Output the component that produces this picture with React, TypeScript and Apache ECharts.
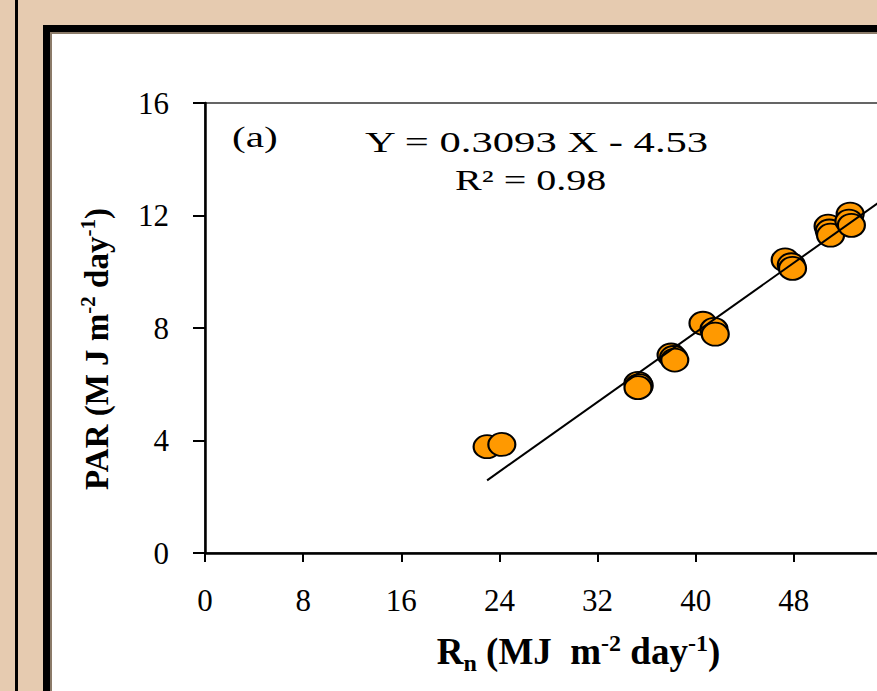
import React, { useEffect, useRef } from "react";
import * as echarts from "echarts";

// Data
const rnValues = [23.0, 24.2, 35.3, 35.4, 35.3, 38.0, 38.2, 38.3, 40.6, 41.5, 41.6, 47.3, 47.8, 47.9, 50.8, 50.9, 51.0, 52.6, 52.5, 52.7];
const parValues = [3.78, 3.86, 6.03, 5.95, 5.88, 7.04, 6.95, 6.86, 8.17, 7.95, 7.78, 10.42, 10.25, 10.12, 11.62, 11.45, 11.3, 12.05, 11.8, 11.65];

// Regression shown on the chart
const slope = 0.3093;
const intercept = -4.53;
const trendStart = 23.0;
const trendEnd = 58;

const xMin = 0;
const xMax = 64;
const xInterval = 8;
const yMin = 0;
const yMax = 16;
const yInterval = 4;

const panelLabel = "(a)";
const equationText = "Y = 0.3093 X - 4.53";
const r2Text = "R² = 0.98";

const SERIF = "'Liberation Serif', 'Times New Roman', serif";

export default function App() {
  const ref = useRef<HTMLDivElement>(null);

  useEffect(() => {
    if (!ref.current) return;
    const chart = echarts.init(ref.current, null, { renderer: "svg" });
    const points = rnValues.map((x, i) => [x, parValues[i]]);
    const trend = [
      [trendStart, slope * trendStart + intercept],
      [trendEnd, slope * trendEnd + intercept],
    ];
    const annStyle = (text: string) => ({
      text,
      fontSize: 29,
      fontFamily: SERIF,
      fill: "#000",
      align: "left",
      verticalAlign: "middle",
      textAlign: "left",
      textVerticalAlign: "middle",
    });

    chart.setOption({
      animation: false,
      backgroundColor: "#e6cbb0",
      graphic: [
        { type: "rect", z: -10, shape: { x: 15, y: 0, width: 3, height: 691 }, style: { fill: "#000" } },
        { type: "rect", z: -10, shape: { x: 43, y: 25, width: 1000, height: 700 }, style: { fill: "#000" } },
        { type: "rect", z: -10, shape: { x: 50, y: 32, width: 1000, height: 700 }, style: { fill: "#8b7b69" } },
        { type: "rect", z: -10, shape: { x: 52, y: 34, width: 1000, height: 700 }, style: { fill: "#ffffff" } },
        { type: "text", z: 10, x: 232, y: 137, scaleX: 1.42, style: annStyle(panelLabel) },
        { type: "text", z: 10, x: 365, y: 142, scaleX: 1.47, style: annStyle(equationText) },
        { type: "text", z: 10, x: 455, y: 180, scaleX: 1.38, style: annStyle(r2Text) },
      ],
      grid: {
        left: 205,
        top: 103,
        width: 785,
        height: 450,
        show: true,
        borderColor: "#333",
        borderWidth: 1.5,
        backgroundColor: "transparent",
      },
      xAxis: {
        type: "value",
        min: xMin,
        max: xMax,
        interval: xInterval,
        splitLine: { show: false },
        axisLine: { show: true, onZero: false, lineStyle: { color: "#000", width: 2.5 } },
        axisTick: { show: true, inside: false, length: 9, lineStyle: { color: "#000", width: 2 } },
        axisLabel: { margin: 32, fontSize: 31, fontFamily: SERIF, color: "#000" },
        name: "{b|R}{sub|n}{b| (MJ  m}{sup|-2}{b| day}{sup|-1}{b|)}",
        nameLocation: "middle",
        nameGap: 78,
        nameTextStyle: {
          padding: [0, 38, 0, 0],
          rich: {
            b: { fontSize: 37, fontWeight: "bold", fontFamily: SERIF, color: "#000", verticalAlign: "bottom", padding: [0, 0, 5, 0] },
            sub: { fontSize: 24, fontWeight: "bold", fontFamily: SERIF, color: "#000", verticalAlign: "bottom", padding: [0, 0, 0, 0] },
            sup: { fontSize: 24, fontWeight: "bold", fontFamily: SERIF, color: "#000", verticalAlign: "bottom", padding: [0, 0, 20, 0] },
          },
        },
      },
      yAxis: {
        type: "value",
        min: yMin,
        max: yMax,
        interval: yInterval,
        splitLine: { show: false },
        axisLine: { show: true, onZero: false, lineStyle: { color: "#000", width: 2.5 } },
        axisTick: { show: true, inside: false, length: 12, lineStyle: { color: "#000", width: 2 } },
        axisLabel: { margin: 36, fontSize: 31, fontFamily: SERIF, color: "#000" },
        name: "{b|PAR (M J m}{sup|-2}{b| day}{sup|-1}{b|)}",
        nameLocation: "middle",
        nameGap: 92,
        nameTextStyle: {
          padding: [0, 42, 0, 0],
          rich: {
            b: { fontSize: 33, fontWeight: "bold", fontFamily: SERIF, color: "#000", verticalAlign: "bottom", padding: [0, 0, 0, 0] },
            sup: { fontSize: 21, fontWeight: "bold", fontFamily: SERIF, color: "#000", verticalAlign: "bottom", padding: [0, 0, 15, 0] },
          },
        },
      },
      series: [
        {
          type: "scatter",
          data: points,
          symbol: "path://M0,50A50,50,0,1,1,100,50A50,50,0,1,1,0,50Z",
          symbolSize: [27, 23],
          itemStyle: { color: "#ff9900", borderColor: "#000", borderWidth: 2, opacity: 1 },
          z: 2,
        },
        {
          type: "line",
          data: trend,
          symbol: "none",
          lineStyle: { color: "#000", width: 2 },
          z: 3,
        },
      ],
    });
    return () => chart.dispose();
  }, []);

  return (
    <div style={{ position: "fixed", left: 0, top: 0, width: 877, height: 691, overflow: "hidden" }}>
      <div ref={ref} style={{ width: 1010, height: 691 }} />
    </div>
  );
}
